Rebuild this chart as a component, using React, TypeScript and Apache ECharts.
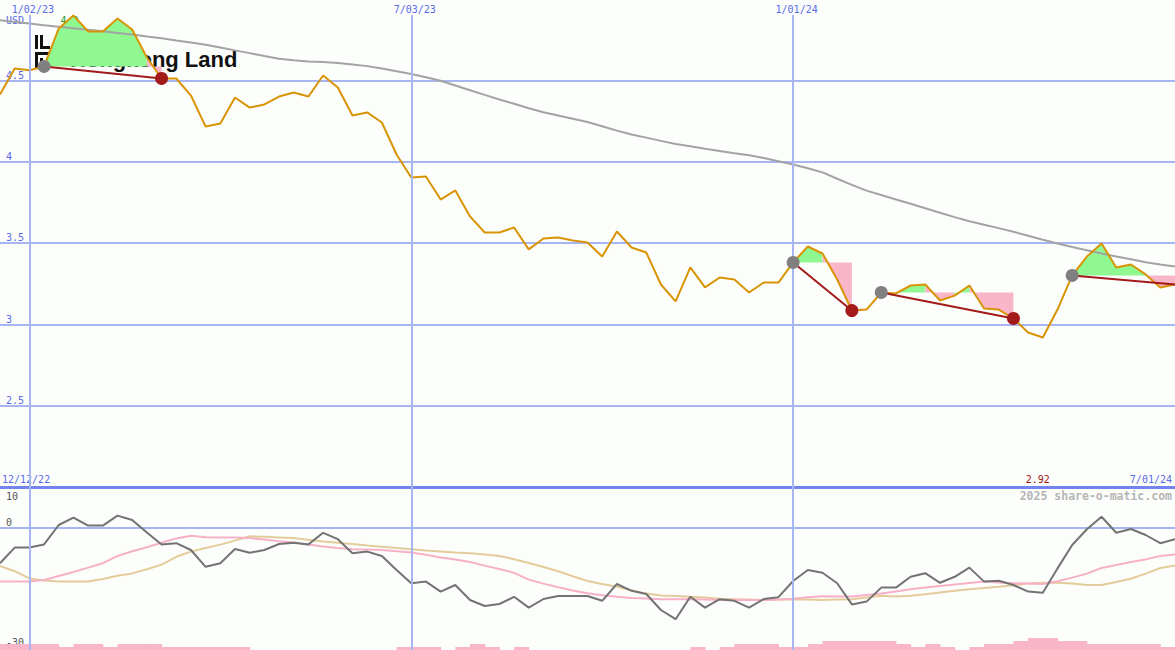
import React, { useEffect, useRef } from "react";
import * as echarts from "echarts";

// ---------------- data ----------------
const FIRST_WEEK_UTC = Date.UTC(2022, 11, 19);
const WEEKS = 81;
const START_LABEL = "12/12/22";
const END_LABEL = "7/01/24";
const CURRENCY = "USD";
const COMPANY = "Hongkong Land";
const CREDIT = "2025 share-o-matic.com";
const DATE_LINES = ["1/02/23", "7/03/23", "1/01/24"];

const price = [
  4.415, 4.575, 4.565, 4.588, 4.822, 4.902, 4.803, 4.803, 4.883, 4.815,
  4.643, 4.514, 4.514, 4.409, 4.218, 4.237, 4.397, 4.335, 4.354, 4.403,
  4.428, 4.403, 4.532, 4.458, 4.286, 4.305, 4.243, 4.046, 3.905, 3.911,
  3.769, 3.825, 3.665, 3.566, 3.566, 3.597, 3.462, 3.529, 3.535, 3.517,
  3.505, 3.418, 3.572, 3.474, 3.443, 3.246, 3.142, 3.351, 3.228, 3.289,
  3.277, 3.197, 3.258, 3.258, 3.382, 3.48, 3.437, 3.277, 3.086, 3.092,
  3.197, 3.191, 3.24, 3.246, 3.148, 3.178, 3.24, 3.098, 3.092, 3.037,
  2.951, 2.92, 3.092, 3.302, 3.418, 3.498, 3.351, 3.369, 3.308, 3.228,
  3.246,
];

const movingAverage = [
  4.872, 4.862, 4.852, 4.842, 4.833, 4.823, 4.814, 4.804, 4.794, 4.785,
  4.772, 4.761, 4.748, 4.736, 4.722, 4.705, 4.687, 4.67, 4.652, 4.636,
  4.626, 4.618, 4.615, 4.609, 4.6, 4.59, 4.575, 4.559, 4.542, 4.521,
  4.5, 4.471, 4.442, 4.413, 4.385, 4.358, 4.331, 4.306, 4.286, 4.266,
  4.246, 4.22, 4.193, 4.169, 4.15, 4.13, 4.111, 4.097, 4.082, 4.068,
  4.054, 4.041, 4.025, 4.005, 3.985, 3.961, 3.936, 3.897, 3.859, 3.824,
  3.797, 3.769, 3.743, 3.715, 3.688, 3.661, 3.635, 3.614, 3.593, 3.571,
  3.546, 3.521, 3.498, 3.477, 3.457, 3.437, 3.418, 3.401, 3.383, 3.369,
  3.357,
];

const oscillator = [
  -8.8, -4.9, -4.9, -4.1, 0.75, 2.6, 0.6, 0.6, 3.1, 2.0,
  -1.1, -4.1, -3.8, -5.5, -9.7, -8.8, -5.25, -6.2, -5.5, -4.0,
  -3.7, -4.1, -1.2, -2.8, -6.3, -5.9, -7.0, -10.5, -13.8, -13.4,
  -15.9, -14.25, -18, -19.5, -19, -17.2, -19.9, -17.75, -17, -17,
  -17, -18.2, -14, -15.7, -16.5, -20.5, -22.8, -17.2, -19.9, -17.8,
  -18.2, -19.9, -17.75, -17.3, -13.25, -10.5, -11.2, -13.8, -19.1, -18.4,
  -14.9, -14.9, -12.2, -11.3, -13.7, -12.2, -9.9, -13.4, -13.2, -14.25,
  -15.9, -16.2, -10.1, -4.25, -0.3, 2.8, -1.2, -0.25, -1.75, -3.8,
  -2.8,
];

const oscAvgFast = [
  -13.4, -13.4, -13.4, -13.0, -12.0, -11.0, -9.9, -8.8, -7.0, -5.8,
  -4.8, -3.7, -2.6, -1.95, -2.3, -2.4, -2.4, -2.5, -2.9, -3.3,
  -3.6, -4.15, -4.65, -4.98, -5.3, -5.4, -5.5, -5.8, -6.1, -6.7,
  -7.4, -7.9, -8.5, -9.4, -10.25, -11.2, -12.9, -13.9, -14.8, -15.6,
  -16.3, -16.8, -17.2, -17.5, -17.65, -17.8, -17.8, -17.8, -17.9, -18.0,
  -18, -18, -18, -17.9, -17.7, -17.3, -17.05, -17.1, -17.1, -16.75,
  -16.4, -15.85, -15.3, -14.85, -14.5, -14.1, -13.75, -13.4, -13.6, -13.8,
  -13.9, -14.0, -13.3, -12.4, -11.4, -10.0, -9.25, -8.5, -7.85, -7.0,
  -6.6,
];

const oscAvgSlow = [
  -9.5, -10.8, -12.6, -13.1, -13.4, -13.4, -13.4, -12.75, -11.95, -11.35,
  -10.3, -9.15, -7.2, -5.9, -5.0, -4.15, -3.15, -2.05, -2.2, -2.35,
  -2.5, -2.95, -3.35, -3.7, -4.0, -4.4, -4.7, -5.0, -5.3, -5.6,
  -5.85, -6.1, -6.3, -6.6, -7.0, -7.8, -8.75, -9.75, -10.8, -12.05,
  -13.25, -14.0, -14.7, -15.55, -16.4, -16.85, -17.0, -17.2, -17.4, -17.7,
  -17.8, -17.9, -18, -17.9, -17.8, -17.9, -18.0, -17.9, -17.8, -17.4,
  -16.95, -17.1, -16.95, -16.55, -16.1, -15.7, -15.3, -15.0, -14.7, -14.3,
  -13.9, -13.7, -13.7, -13.9, -14.25, -14.25, -13.5, -12.7, -11.4, -10.0,
  -9.4,
];

const volumeLevel = [
  2, 2, 2, 2, 1, 2, 2, 1, 2, 2,
  2, 1, 1, 1, 1, 1, 1, 0, 0, 0,
  0, 0, 0, 0, 0, 0, 0, 1, 1, 1,
  0, 1, 2, 1, 0, 1, 0, 0, 0, 0,
  0, 0, 0, 0, 0, 0, 0, 1, 0, 1,
  2, 2, 2, 1, 1, 2, 3, 3, 3, 3,
  3, 2, 1, 2, 1, 0, 1, 2, 2, 3,
  4, 4, 3, 3, 2, 2, 2, 2, 2, 1,
  1,
];

const patternStart = [3, 54, 60, 73];
const patternEnd = [11, 58, 69, 80];
const patternClosed = [true, true, true, false];

// ---------------- styles ----------------
const BG = "#fcfefc";
const BLUE = "#5a6be6";
const GRID = "#a7b5f3";
const AXIS = "#7484ee";
const MONO = "DejaVu Sans Mono";
const ORANGE = "#d99405";
const MA_GRAY = "#a3a3a3";
const GREEN = "#90f890";
const PINK = "#f8b6c8";
const DARK_RED = "#a31a1a";
const DOT_GRAY = "#808080";

const fmtDate = (t: number) => {
  const d = new Date(t);
  return `${d.getUTCMonth() + 1}/${String(d.getUTCDate()).padStart(2, "0")}/${String(
    d.getUTCFullYear()
  ).slice(2)}`;
};
const weeks = Array.from({ length: WEEKS }, (_, i) => fmtDate(FIRST_WEEK_UTC + i * 7 * 864e5));

const PRICE_MIN = 2;
const PRICE_TOP = 2 + 472 / 162.5;

export default function App() {
  const ref = useRef<HTMLDivElement>(null);

  useEffect(() => {
    if (!ref.current) return;
    const chart = echarts.init(ref.current, undefined, { renderer: "svg" });

    const segs = patternStart.map((s, i) => ({ start: s, end: patternEnd[i], closed: patternClosed[i] }));

    const option: any = {
      animation: false,
      backgroundColor: BG,
      grid: [
        { left: 0, right: 0, top: 15, height: 472, containLabel: false, outerBoundsMode: "none" },
        { left: 0, right: 0, top: 488, height: 160, containLabel: false, outerBoundsMode: "none" },
        { left: 0, right: 0, top: 487, height: 163, containLabel: false, outerBoundsMode: "none" },
      ],
      xAxis: [
        {
          type: "category",
          gridIndex: 0,
          data: weeks,
          boundaryGap: false,
          axisLine: { show: true, onZero: false, lineStyle: { color: AXIS, width: 3 } },
          axisTick: { show: false },
          axisLabel: { show: false },
          splitLine: { show: false },
        },
        { type: "category", gridIndex: 1, data: weeks, boundaryGap: false, show: false },
        { type: "category", gridIndex: 2, data: weeks, boundaryGap: false, show: false },
      ],
      yAxis: [
        {
          type: "value",
          gridIndex: 0,
          position: "left",
          min: PRICE_MIN,
          max: PRICE_TOP,
          interval: 0.5,
          axisLine: { show: false },
          axisTick: { show: false },
          axisLabel: {
            inside: true,
            margin: 6,
            showMinLabel: false,
            showMaxLabel: false,
            color: BLUE,
            fontFamily: MONO,
            fontSize: 10,
            verticalAlign: "bottom",
            lineHeight: 11,
            formatter: (v: number) => (Math.abs(v * 2 - Math.round(v * 2)) < 1e-6 ? String(v) : ""),
          },
          splitLine: { show: true, showMinLine: false, showMaxLine: false, lineStyle: { color: GRID, width: 2 } },
        },
        {
          type: "value",
          gridIndex: 1,
          position: "left",
          min: -30,
          max: 10,
          interval: 30,
          axisLine: { show: false },
          axisTick: { show: false },
          axisLabel: {
            inside: true,
            margin: 6,
            showMaxLabel: false,
            color: "#555555",
            fontFamily: MONO,
            fontSize: 10,
            verticalAlign: "bottom",
            lineHeight: 12,
            formatter: (v: number) => (v === 0 || v === -30 ? String(v) : ""),
          },
          splitLine: { show: true, showMinLine: false, showMaxLine: false, lineStyle: { color: GRID, width: 2 } },
        },
        { type: "value", gridIndex: 2, min: 0, max: 163 / 3, show: false },
        {
          type: "value",
          gridIndex: 1,
          position: "left",
          offset: 0,
          min: -30,
          max: 10,
          interval: 40,
          axisLine: { show: false },
          axisTick: { show: false },
          splitLine: { show: false },
          axisLabel: {
            inside: true,
            margin: 6,
            showMinLabel: false,
            color: "#555555",
            fontFamily: MONO,
            fontSize: 10,
            verticalAlign: "top",
            lineHeight: 16,
            formatter: (v: number) => (v === 10 ? "10" : ""),
          },
        },
      ],
      series: [
        // carrier for the dated vertical grid lines (upper panel)
        {
          type: "line",
          xAxisIndex: 0,
          yAxisIndex: 0,
          data: price,
          showSymbol: false,
          silent: true,
          z: 1,
          lineStyle: { opacity: 0, width: 0 },
          markLine: {
            silent: true,
            symbol: ["none", "none"],
            lineStyle: { color: GRID, width: 2, type: "solid" },
            label: {
              show: true,
              position: "end",
              formatter: (p: any) => p.name,
              color: BLUE,
              fontFamily: MONO,
              fontSize: 10,
              distance: 1,
              padding: [0, 0, 0, 7],
            },
            data: DATE_LINES.map((d) => ({ name: d, xAxis: d })),
          },
        },
        // above/below fills for the patterns (one polygon per run of same colour)
        {
          type: "custom",
          xAxisIndex: 0,
          yAxisIndex: 0,
          silent: true,
          z: 2,
          data: segs.map((s, i) => [s.start, price[s.start], i]),
          renderItem: (params: any, api: any) => {
            const seg = segs[params.dataIndex];
            const base = price[seg.start];
            const children: any[] = [];
            let k = seg.start;
            while (k < seg.end) {
              const up = price[k + 1] >= base;
              let j = k + 1;
              while (j < seg.end && price[j + 1] >= base === up) j++;
              const pts: number[][] = [api.coord([k, base])];
              for (let m = k; m <= j; m++) pts.push(api.coord([m, price[m]]));
              pts.push(api.coord([j, base]));
              children.push({
                type: "polygon",
                shape: { points: pts },
                style: { fill: up ? GREEN : PINK },
              });
              k = j;
            }
            return { type: "group", children };
          },
        },
        {
          type: "line",
          name: "average",
          xAxisIndex: 0,
          yAxisIndex: 0,
          data: movingAverage,
          showSymbol: false,
          silent: true,
          z: 3,
          lineStyle: { color: MA_GRAY, width: 2 },
        },
        {
          type: "line",
          name: "price",
          xAxisIndex: 0,
          yAxisIndex: 0,
          data: price,
          showSymbol: false,
          silent: true,
          clip: false,
          z: 4,
          lineStyle: { color: ORANGE, width: 2 },
        },
        ...segs.map((s) => ({
          type: "line",
          xAxisIndex: 0,
          yAxisIndex: 0,
          data: [
            [weeks[s.start], price[s.start]],
            [weeks[s.end], price[s.end]],
          ],
          showSymbol: false,
          silent: true,
          z: 5,
          lineStyle: { color: DARK_RED, width: 2 },
        })),
        {
          type: "scatter",
          xAxisIndex: 0,
          yAxisIndex: 0,
          silent: true,
          z: 6,
          symbolSize: 13,
          itemStyle: { color: DOT_GRAY, opacity: 1 },
          data: segs.map((s) => [weeks[s.start], price[s.start]]),
        },
        {
          type: "scatter",
          xAxisIndex: 0,
          yAxisIndex: 0,
          silent: true,
          z: 6,
          symbolSize: 13,
          itemStyle: { color: DARK_RED, opacity: 1 },
          data: segs.filter((s) => s.closed).map((s) => [weeks[s.end], price[s.end]]),
        },
        // lower panel
        {
          type: "line",
          xAxisIndex: 1,
          yAxisIndex: 1,
          data: oscAvgSlow,
          showSymbol: false,
          silent: true,
          z: 3,
          lineStyle: { color: "#e4cc9a", width: 2 },
        },
        {
          type: "line",
          xAxisIndex: 1,
          yAxisIndex: 1,
          data: oscAvgFast,
          showSymbol: false,
          silent: true,
          z: 3,
          lineStyle: { color: "#f7b0c6", width: 2 },
        },
        {
          type: "line",
          xAxisIndex: 1,
          yAxisIndex: 1,
          data: oscillator,
          showSymbol: false,
          silent: true,
          z: 4,
          lineStyle: { color: "#737373", width: 2 },
        },
        {
          type: "custom",
          xAxisIndex: 2,
          yAxisIndex: 2,
          silent: true,
          z: 2,
          data: volumeLevel.map((v, k) => [k, v]),
          renderItem: (params: any, api: any) => {
            const k = api.value(0);
            const v = api.value(1);
            const a = api.coord([k, v]);
            const b = api.coord([k, 0]);
            const step = api.coord([1, 0])[0] - api.coord([0, 0])[0];
            return {
              type: "rect",
              shape: { x: a[0], y: a[1], width: step + 0.5, height: b[1] - a[1] },
              style: { fill: PINK },
            };
          },
        },
        {
          type: "line",
          xAxisIndex: 2,
          yAxisIndex: 2,
          data: volumeLevel,
          showSymbol: false,
          silent: true,
          z: 3,
          lineStyle: { opacity: 0, width: 0 },
          markLine: {
            silent: true,
            symbol: ["none", "none"],
            lineStyle: { color: GRID, width: 2, type: "solid" },
            label: { show: false },
            data: DATE_LINES.map((d) => ({ name: d, xAxis: d })),
          },
        },
      ],
    };

    chart.setOption(option);

    let maxIdx = 0;
    let minIdx = 0;
    price.forEach((p, i) => {
      if (p > price[maxIdx]) maxIdx = i;
      if (p < price[minIdx]) minIdx = i;
    });
    const xMax = chart.convertToPixel({ xAxisIndex: 0 }, weeks[maxIdx]) as number;
    const xMin = chart.convertToPixel({ xAxisIndex: 0 }, weeks[minIdx]) as number;
    const label = (n: number) => String(Number(n.toFixed(2)));

    const smallFont = `10px "${MONO}"`;
    chart.setOption({
      graphic: [
        // company logo (behind the chart)
        { type: "rect", z: 0, shape: { x: 35, y: 35, width: 3, height: 14 }, style: { fill: "#111" } },
        { type: "rect", z: 0, shape: { x: 40, y: 35, width: 3, height: 14 }, style: { fill: "#111" } },
        { type: "rect", z: 0, shape: { x: 40, y: 46, width: 10, height: 3 }, style: { fill: "#111" } },
        { type: "rect", z: 0, shape: { x: 35, y: 52, width: 15, height: 3 }, style: { fill: "#111" } },
        { type: "rect", z: 0, shape: { x: 35, y: 52, width: 3, height: 16 }, style: { fill: "#111" } },
        { type: "rect", z: 0, shape: { x: 40, y: 58, width: 3, height: 10 }, style: { fill: "#111" } },
        {
          type: "text",
          z: 0,
          x: 70,
          y: 59.5,
          style: {
            text: COMPANY,
            font: 'bold 22px "Liberation Sans"',
            fill: "#111111",
            align: "left",
            verticalAlign: "middle",
          },
        },
        {
          type: "text",
          z: 0,
          x: 6,
          y: 20.5,
          style: { text: CURRENCY, font: smallFont, fill: BLUE, align: "left", verticalAlign: "middle" },
        },
        {
          type: "text",
          z: 0,
          x: xMax - 4,
          y: 20.5,
          style: { text: label(price[maxIdx]), font: smallFont, fill: "#1f9a1f", align: "center", verticalAlign: "middle" },
        },
        {
          type: "text",
          z: 0,
          x: 2,
          y: 479.5,
          style: { text: START_LABEL, font: smallFont, fill: BLUE, align: "left", verticalAlign: "middle" },
        },
        {
          type: "text",
          z: 0,
          x: 1172,
          y: 479.5,
          style: { text: END_LABEL, font: smallFont, fill: BLUE, align: "right", verticalAlign: "middle" },
        },
        {
          type: "text",
          z: 0,
          x: xMin - 5,
          y: 479.5,
          style: { text: label(price[minIdx]), font: smallFont, fill: "#a01414", align: "center", verticalAlign: "middle" },
        },
        {
          type: "text",
          z: 0,
          x: 1172,
          y: 496,
          style: {
            text: CREDIT,
            font: `bold 11.5px "${MONO}"`,
            fill: "#b6b6b6",
            align: "right",
            verticalAlign: "middle",
          },
        },
      ],
    });

    return () => chart.dispose();
  }, []);

  return (
    <div
      ref={ref}
      style={{ position: "fixed", left: 0, top: 0, width: 1175, height: 650, background: BG }}
    />
  );
}
